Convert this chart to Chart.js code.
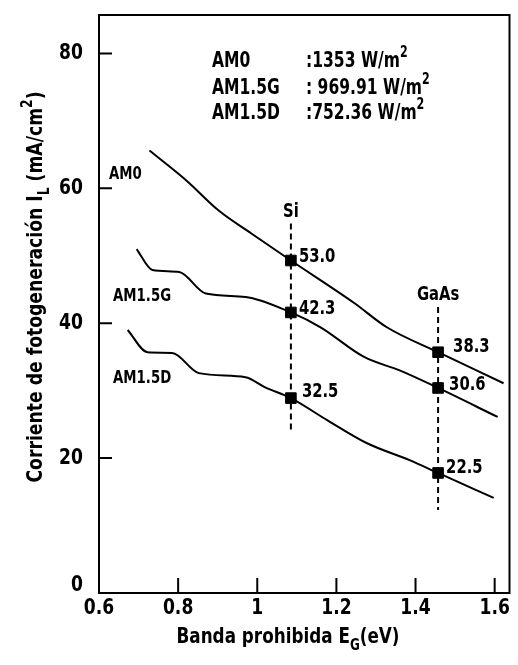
<!DOCTYPE html>
<html>
<head>
<meta charset="utf-8">
<script src="https://cdn.jsdelivr.net/npm/chart.js@4.4.1/dist/chart.umd.min.js"></script>
<style>
  html, body { margin: 0; padding: 0; background: #fff; }
  #wrap { width: 518px; height: 665px; }
</style>
</head>
<body>
<div id="wrap"><canvas id="chart"></canvas></div>
<script>
// band gap (eV) vs photogenerated current (mA/cm2)
const am0E = [0.7275, 0.82, 0.9025, 0.985, 1.085, 1.245, 1.3275, 1.457, 1.6225];
const am0I = [65.6, 61.2, 56.7, 53.3, 49.3, 43.0, 39.4, 35.7, 31.1];

const am15gE = [0.695, 0.735, 0.8025, 0.87, 0.97, 1.085, 1.16, 1.27, 1.36, 1.457, 1.6075];
const am15gI = [51.0, 47.9, 47.6, 44.4, 43.9, 41.6, 39.4, 35.0, 33.0, 30.4, 26.1];

const am15dE = [0.6725, 0.7225, 0.785, 0.8525, 0.97, 1.02, 1.085, 1.1775, 1.2775, 1.385, 1.457, 1.5975];
const am15dI = [39.0, 35.7, 35.6, 32.6, 32.0, 30.5, 28.9, 25.6, 22.2, 19.7, 17.8, 14.1];

// Si / GaAs markers
const cellNames = ['Si', 'GaAs'];
const cellE = [1.085, 1.457];
const markAm0 = [49.3, 35.7];
const markAm15g = [41.6, 30.4];
const markAm15d = [28.9, 17.8];
const markLabels = [['53.0', '38.3'], ['42.3', '30.6'], ['32.5', '22.5']];
const cellLineTop = [54.8, 42.4];
const cellLineBottom = [23.7, 12.3];

const xTicks = [0.6, 0.8, 1.0, 1.2, 1.4, 1.6];
const yTicks = [0, 20, 40, 60, 80];

const curveNames = ['AM0', 'AM1.5G', 'AM1.5D'];
const irradiance = [':1353 W/m', ': 969.91 W/m', ':752.36 W/m'];

const FONT = '"DejaVu Sans", sans-serif';

function pts(xs, ys) { return xs.map((x, i) => ({ x: x, y: ys[i] })); }

function curve(xs, ys) {
    return {
        type: 'line', data: pts(xs, ys), borderColor: '#000', borderWidth: 2,
        pointRadius: 0, cubicInterpolationMode: 'monotone', fill: false
    };
}

const datasets = [curve(am0E, am0I), curve(am15gE, am15gI), curve(am15dE, am15dI)];
cellE.forEach((e, i) => {
    datasets.push({
        type: 'line', data: [{ x: e, y: cellLineTop[i] }, { x: e, y: cellLineBottom[i] }],
        borderColor: '#000', borderWidth: 2, borderDash: [6, 4], pointRadius: 0
    });
});
[markAm0, markAm15g, markAm15d].forEach(m => {
    datasets.push({
        type: 'scatter', data: pts(cellE, m), pointStyle: 'rect', pointRadius: 7.5,
        backgroundColor: '#000', borderColor: '#000'
    });
});

// condensed look: squeeze DejaVu horizontally
function drawRich(ctx, parts, x, y, size, sx, align) {
    const fontOf = p => 'bold ' + Math.round(p.sub || p.sup ? size * 0.7 : size) + 'px ' + FONT;
    let w = 0;
    parts.forEach(p => { ctx.font = fontOf(p); w += ctx.measureText(p.t).width; });
    ctx.save();
    ctx.translate(x, y);
    ctx.scale(sx, 1);
    let cx = align === 'center' ? -w / 2 : (align === 'right' ? -w : 0);
    ctx.textAlign = 'left';
    ctx.textBaseline = 'middle';
    parts.forEach(p => {
        ctx.font = fontOf(p);
        const dy = p.sub ? size * 0.38 : (p.sup ? -size * 0.42 : 0);
        ctx.fillText(p.t, cx, dy);
        cx += ctx.measureText(p.t).width;
    });
    ctx.restore();
}
function txt(ctx, s, x, y, size, sx, align) { drawRich(ctx, [{ t: s }], x, y, size, sx, align); }

const labelOffsets = [[[8, -4], [15, -5]], [[8, -4], [11, -3]], [[11, -6], [8, -5]]];

const decor = {
    id: 'decor',
    afterDatasetsDraw(chart) {
        const ctx = chart.ctx, a = chart.chartArea;
        const xs = chart.scales.x, ys = chart.scales.y;
        ctx.save();
        ctx.strokeStyle = '#000';
        ctx.fillStyle = '#000';
        ctx.lineWidth = 2;
        ctx.strokeRect(a.left, a.top, a.right - a.left, a.bottom - a.top);
        // inward ticks
        ctx.beginPath();
        xTicks.forEach(v => { const px = xs.getPixelForValue(v); ctx.moveTo(px, a.bottom); ctx.lineTo(px, a.bottom - 15); });
        yTicks.forEach(v => { if (v === 0) return; const py = ys.getPixelForValue(v); ctx.moveTo(a.left, py); ctx.lineTo(a.left + 13, py); });
        ctx.stroke();

        // tick labels
        xTicks.forEach(v => txt(ctx, String(v), xs.getPixelForValue(v), a.bottom + 15, 22, 0.78, 'center'));
        yTicks.forEach(v => txt(ctx, String(v), a.left - 16, ys.getPixelForValue(v) - (v === 0 ? 8 : 0), 22, 0.78, 'right'));

        // marker labels
        for (let k = 0; k < 3; k++) {
            const meta = chart.getDatasetMeta(5 + k);
            meta.data.forEach((el, i) => {
                const o = labelOffsets[k][i];
                txt(ctx, markLabels[k][i], el.x + o[0], el.y + o[1], 20, 0.74, 'left');
            });
        }
        // Si / GaAs names
        cellNames.forEach((n, i) => {
            txt(ctx, n, xs.getPixelForValue(cellE[i]), ys.getPixelForValue(cellLineTop[i]) - 12, 20, 0.74, 'center');
        });
        // curve names near starts
        txt(ctx, curveNames[0], 109, 174, 18, 0.74, 'left');
        txt(ctx, curveNames[1], 113, 296, 18, 0.74, 'left');
        txt(ctx, curveNames[2], 113, 378, 18, 0.74, 'left');

        // irradiance box
        [62, 89, 114].forEach((py, i) => {
            txt(ctx, curveNames[i], 212, py, 21, 0.74, 'left');
            drawRich(ctx, [{ t: irradiance[i] }, { t: '2', sup: true }], 306, py, 21, 0.74, 'left');
        });

        // axis titles
        drawRich(ctx, [{ t: 'Banda prohibida E' }, { t: 'G', sub: true }, { t: '(eV)' }], 288, 638, 21, 0.8, 'center');
        ctx.translate(37, 287);
        ctx.rotate(-Math.PI / 2);
        drawRich(ctx, [{ t: 'Corriente de fotogeneración I' }, { t: 'L', sub: true }, { t: ' (mA/cm' }, { t: '2', sup: true }, { t: ')' }], 0, 0, 21, 0.82, 'center');
        ctx.restore();
    }
};

new Chart(document.getElementById('chart'), {
    type: 'scatter',
    data: { datasets: datasets },
    options: {
        responsive: true,
        maintainAspectRatio: false,
        animation: false,
        layout: { padding: { top: 15, right: 4, left: 0, bottom: 0 } },
        plugins: { legend: { display: false }, tooltip: { enabled: false } },
        scales: {
            x: {
                type: 'linear', min: 0.6, max: 1.6375,
                afterBuildTicks: s => { s.ticks = xTicks.map(v => ({ value: v })); },
                afterFit: s => { s.height = 72; },
                grid: { display: false, drawTicks: false },
                border: { display: false },
                ticks: { display: false }
            },
            y: {
                type: 'linear', min: 0, max: 85.7,
                afterBuildTicks: s => { s.ticks = yTicks.map(v => ({ value: v })); },
                afterFit: s => { s.width = 99; },
                grid: { display: false, drawTicks: false },
                border: { display: false },
                ticks: { display: false }
            }
        }
    },
    plugins: [decor]
});
</script>
</body>
</html>
